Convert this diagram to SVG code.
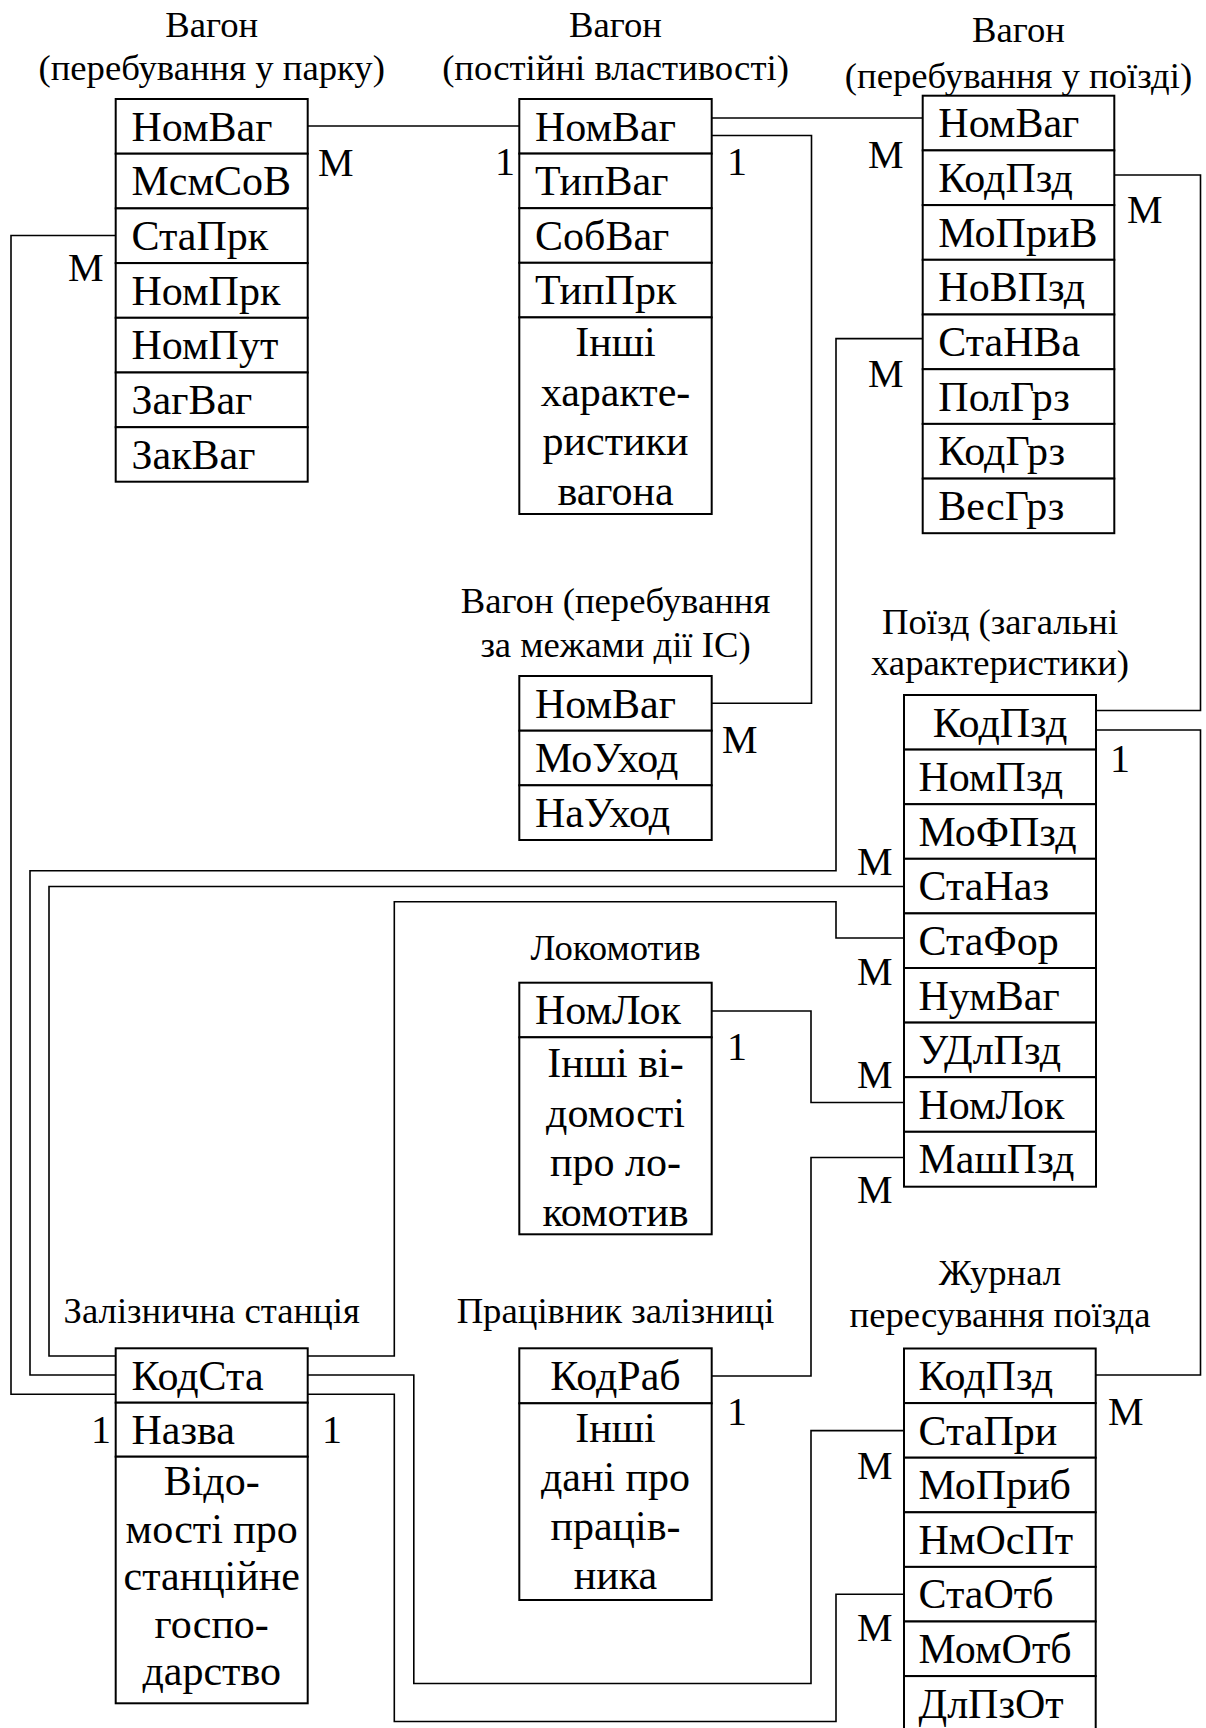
<svg xmlns="http://www.w3.org/2000/svg" width="1206" height="1728" viewBox="0 0 1206 1728">
  <style>
    text { font-family: "Liberation Serif", "Times New Roman", serif; fill: #000; }
    .ttl { font-size: 36.7px; text-anchor: middle; }
    .fld { font-size: 42px; }
    .mid { text-anchor: middle; }
    .lbl { font-size: 40px; }
    .cell { fill: #fff; stroke: #000; stroke-width: 2; }
    .conn { fill: none; stroke: #000; stroke-width: 1.6; }
  </style>
  <rect width="1206" height="1728" fill="#fff"/>

  <!-- relationship lines -->
  <g id="connectors">
    <polyline class="conn" points="307.7,126 519.3,126"/>
    <polyline class="conn" points="711.7,118 922.7,118"/>
    <polyline class="conn" points="711.7,135.5 811.5,135.5 811.5,703.3 711.7,703.3"/>
    <polyline class="conn" points="115.7,235.5 11,235.5 11,1394.3 115.7,1394.3"/>
    <polyline class="conn" points="1114.3,175 1200.5,175 1200.5,710.5 1096,710.5"/>
    <polyline class="conn" points="922.7,338.6 836,338.6 836,870.7 30,870.7 30,1375 115.7,1375"/>
    <polyline class="conn" points="904,886.5 49,886.5 49,1356 115.7,1356"/>
    <polyline class="conn" points="904,938 836,938 836,901.7 394.3,901.7 394.3,1356 307.7,1356"/>
    <polyline class="conn" points="711.7,1011 811,1011 811,1102.5 904,1102.5"/>
    <polyline class="conn" points="711.7,1376 811,1376 811,1157.5 904,1157.5"/>
    <polyline class="conn" points="1096,730 1200.5,730 1200.5,1375 1095.7,1375"/>
    <polyline class="conn" points="307.7,1375 413.8,1375 413.8,1683.5 811,1683.5 811,1430.6 904,1430.6"/>
    <polyline class="conn" points="307.7,1394.3 394.3,1394.3 394.3,1721.5 836,1721.5 836,1594.2 904,1594.2"/>
  </g>

  <!-- cardinality marks -->
  <g id="cardinalities" class="lbl">
    <text x="318" y="176">М</text>
    <text x="68" y="281">М</text>
    <text x="495" y="175">1</text>
    <text x="727" y="175">1</text>
    <text x="868" y="168">М</text>
    <text x="1127" y="223">М</text>
    <text x="868" y="387">М</text>
    <text x="722" y="753">М</text>
    <text x="1110" y="772">1</text>
    <text x="857" y="875">М</text>
    <text x="857" y="985">М</text>
    <text x="857" y="1088">М</text>
    <text x="857" y="1203">М</text>
    <text x="727" y="1060">1</text>
    <text x="727" y="1425">1</text>
    <text x="1108" y="1425">М</text>
    <text x="857" y="1479">М</text>
    <text x="857" y="1641">М</text>
    <text x="91" y="1443">1</text>
    <text x="322" y="1443">1</text>
  </g>

  <!-- Wagon in depot -->
  <g id="wagon-park">
    <text class="ttl" x="211.7" y="37">Вагон</text>
    <text class="ttl" x="211.7" y="80">(перебування у парку)</text>
    <rect class="cell" x="115.7" y="99" width="192" height="54.7"/>
    <rect class="cell" x="115.7" y="153.7" width="192" height="54.7"/>
    <rect class="cell" x="115.7" y="208.4" width="192" height="54.7"/>
    <rect class="cell" x="115.7" y="263.1" width="192" height="54.7"/>
    <rect class="cell" x="115.7" y="317.8" width="192" height="54.7"/>
    <rect class="cell" x="115.7" y="372.5" width="192" height="54.7"/>
    <rect class="cell" x="115.7" y="427.2" width="192" height="54.5"/>
    <g class="fld">
      <text x="131.5" y="140.5">НомВаг</text>
      <text x="131.5" y="195.2">МсмСоВ</text>
      <text x="131.5" y="249.9">СтаПрк</text>
      <text x="131.5" y="304.6">НомПрк</text>
      <text x="131.5" y="359.3">НомПут</text>
      <text x="131.5" y="414">ЗагВаг</text>
      <text x="131.5" y="468.7">ЗакВаг</text>
    </g>
  </g>

  <!-- Wagon constant properties -->
  <g id="wagon-const">
    <text class="ttl" x="615.5" y="37">Вагон</text>
    <text class="ttl" x="615.5" y="80">(постійні властивості)</text>
    <rect class="cell" x="519.3" y="99" width="192.4" height="54.6"/>
    <rect class="cell" x="519.3" y="153.6" width="192.4" height="54.6"/>
    <rect class="cell" x="519.3" y="208.2" width="192.4" height="54.6"/>
    <rect class="cell" x="519.3" y="262.8" width="192.4" height="54.6"/>
    <rect class="cell" x="519.3" y="317.4" width="192.4" height="196.6"/>
    <g class="fld">
      <text x="535" y="140.5">НомВаг</text>
      <text x="535" y="195.1">ТипВаг</text>
      <text x="535" y="249.7">СобВаг</text>
      <text x="535" y="304.3">ТипПрк</text>
      <text class="mid" x="615.5" y="356">Інші</text>
      <text class="mid" x="615.5" y="405.5">характе-</text>
      <text class="mid" x="615.5" y="455">ристики</text>
      <text class="mid" x="615.5" y="504.5">вагона</text>
    </g>
  </g>

  <!-- Wagon in train -->
  <g id="wagon-train">
    <text class="ttl" x="1018.5" y="42">Вагон</text>
    <text class="ttl" x="1018.5" y="88">(перебування у поїзді)</text>
    <rect class="cell" x="922.7" y="95.7" width="191.6" height="54.7"/>
    <rect class="cell" x="922.7" y="150.4" width="191.6" height="54.7"/>
    <rect class="cell" x="922.7" y="205.1" width="191.6" height="54.7"/>
    <rect class="cell" x="922.7" y="259.8" width="191.6" height="54.7"/>
    <rect class="cell" x="922.7" y="314.5" width="191.6" height="54.7"/>
    <rect class="cell" x="922.7" y="369.2" width="191.6" height="54.7"/>
    <rect class="cell" x="922.7" y="423.9" width="191.6" height="54.7"/>
    <rect class="cell" x="922.7" y="478.6" width="191.6" height="54.6"/>
    <g class="fld">
      <text x="938.3" y="137.2">НомВаг</text>
      <text x="938.3" y="191.9">КодПзд</text>
      <text x="938.3" y="246.6">МоПриВ</text>
      <text x="938.3" y="301.3">НоВПзд</text>
      <text x="938.3" y="356">СтаНВа</text>
      <text x="938.3" y="410.7">ПолГрз</text>
      <text x="938.3" y="465.4">КодГрз</text>
      <text x="938.3" y="520.1">ВесГрз</text>
    </g>
  </g>

  <!-- Wagon outside the system -->
  <g id="wagon-out">
    <text class="ttl" x="615.5" y="613">Вагон (перебування</text>
    <text class="ttl" x="615.5" y="657">за межами дії ІС)</text>
    <rect class="cell" x="519.3" y="676" width="192.4" height="54.7"/>
    <rect class="cell" x="519.3" y="730.7" width="192.4" height="54.6"/>
    <rect class="cell" x="519.3" y="785.3" width="192.4" height="54.7"/>
    <g class="fld">
      <text x="535" y="717.5">НомВаг</text>
      <text x="535" y="772.2">МоУход</text>
      <text x="535" y="826.8">НаУход</text>
    </g>
  </g>

  <!-- Train general data -->
  <g id="train">
    <text class="ttl" x="1000" y="634">Поїзд (загальні</text>
    <text class="ttl" x="1000" y="675">характеристики)</text>
    <rect class="cell" x="904" y="695" width="192" height="54.6"/>
    <rect class="cell" x="904" y="749.6" width="192" height="54.6"/>
    <rect class="cell" x="904" y="804.2" width="192" height="54.6"/>
    <rect class="cell" x="904" y="858.8" width="192" height="54.6"/>
    <rect class="cell" x="904" y="913.4" width="192" height="54.6"/>
    <rect class="cell" x="904" y="968" width="192" height="54.6"/>
    <rect class="cell" x="904" y="1022.6" width="192" height="54.6"/>
    <rect class="cell" x="904" y="1077.2" width="192" height="54.6"/>
    <rect class="cell" x="904" y="1131.8" width="192" height="54.9"/>
    <g class="fld">
      <text class="mid" x="1000" y="736.5">КодПзд</text>
      <text x="918.5" y="791.1">НомПзд</text>
      <text x="918.5" y="845.7">МоФПзд</text>
      <text x="918.5" y="900.3">СтаНаз</text>
      <text x="918.5" y="954.9">СтаФор</text>
      <text x="918.5" y="1009.5">НумВаг</text>
      <text x="918.5" y="1064.1">УДлПзд</text>
      <text x="918.5" y="1118.7">НомЛок</text>
      <text x="918.5" y="1173.3">МашПзд</text>
    </g>
  </g>

  <!-- Locomotive -->
  <g id="locomotive">
    <text class="ttl" x="615.5" y="960">Локомотив</text>
    <rect class="cell" x="519.3" y="982.7" width="192.4" height="54.6"/>
    <rect class="cell" x="519.3" y="1037.3" width="192.4" height="197"/>
    <g class="fld">
      <text x="535" y="1024">НомЛок</text>
      <text class="mid" x="615.5" y="1077">Інші ві-</text>
      <text class="mid" x="615.5" y="1126.5">домості</text>
      <text class="mid" x="615.5" y="1176">про ло-</text>
      <text class="mid" x="615.5" y="1225.5">комотив</text>
    </g>
  </g>

  <!-- Railway employee -->
  <g id="employee">
    <text class="ttl" x="615.5" y="1323">Працівник залізниці</text>
    <rect class="cell" x="519.3" y="1348.3" width="192.4" height="55"/>
    <rect class="cell" x="519.3" y="1403.3" width="192.4" height="196.7"/>
    <g class="fld">
      <text class="mid" x="615.5" y="1389.8">КодРаб</text>
      <text class="mid" x="615.5" y="1441.7">Інші</text>
      <text class="mid" x="615.5" y="1491">дані про</text>
      <text class="mid" x="615.5" y="1540">праців-</text>
      <text class="mid" x="615.5" y="1589">ника</text>
    </g>
  </g>

  <!-- Railway station -->
  <g id="station">
    <text class="ttl" x="211.7" y="1323">Залізнична станція</text>
    <rect class="cell" x="115.7" y="1348.3" width="192" height="54.4"/>
    <rect class="cell" x="115.7" y="1402.7" width="192" height="54"/>
    <rect class="cell" x="115.7" y="1456.7" width="192" height="246.6"/>
    <g class="fld">
      <text x="131.5" y="1389.8">КодСта</text>
      <text x="131.5" y="1443.8">Назва</text>
      <text class="mid" x="211.7" y="1495">Відо-</text>
      <text class="mid" x="211.7" y="1542.5">мості про</text>
      <text class="mid" x="211.7" y="1590">станційне</text>
      <text class="mid" x="211.7" y="1637.5">госпо-</text>
      <text class="mid" x="211.7" y="1685">дарство</text>
    </g>
  </g>

  <!-- Train movement log -->
  <g id="train-log">
    <text class="ttl" x="1000" y="1285">Журнал</text>
    <text class="ttl" x="1000" y="1327">пересування поїзда</text>
    <rect class="cell" x="904" y="1348.5" width="191.7" height="54.6"/>
    <rect class="cell" x="904" y="1403.1" width="191.7" height="54.6"/>
    <rect class="cell" x="904" y="1457.7" width="191.7" height="54.6"/>
    <rect class="cell" x="904" y="1512.3" width="191.7" height="54.6"/>
    <rect class="cell" x="904" y="1566.9" width="191.7" height="54.6"/>
    <rect class="cell" x="904" y="1621.5" width="191.7" height="54.6"/>
    <rect class="cell" x="904" y="1676.1" width="191.7" height="56"/>
    <g class="fld">
      <text x="918.5" y="1390">КодПзд</text>
      <text x="918.5" y="1444.6">СтаПри</text>
      <text x="918.5" y="1499.2">МоПриб</text>
      <text x="918.5" y="1553.8">НмОсПт</text>
      <text x="918.5" y="1608.4">СтаОтб</text>
      <text x="918.5" y="1663">МомОтб</text>
      <text x="918.5" y="1717.6">ДлПзОт</text>
    </g>
  </g>
</svg>
